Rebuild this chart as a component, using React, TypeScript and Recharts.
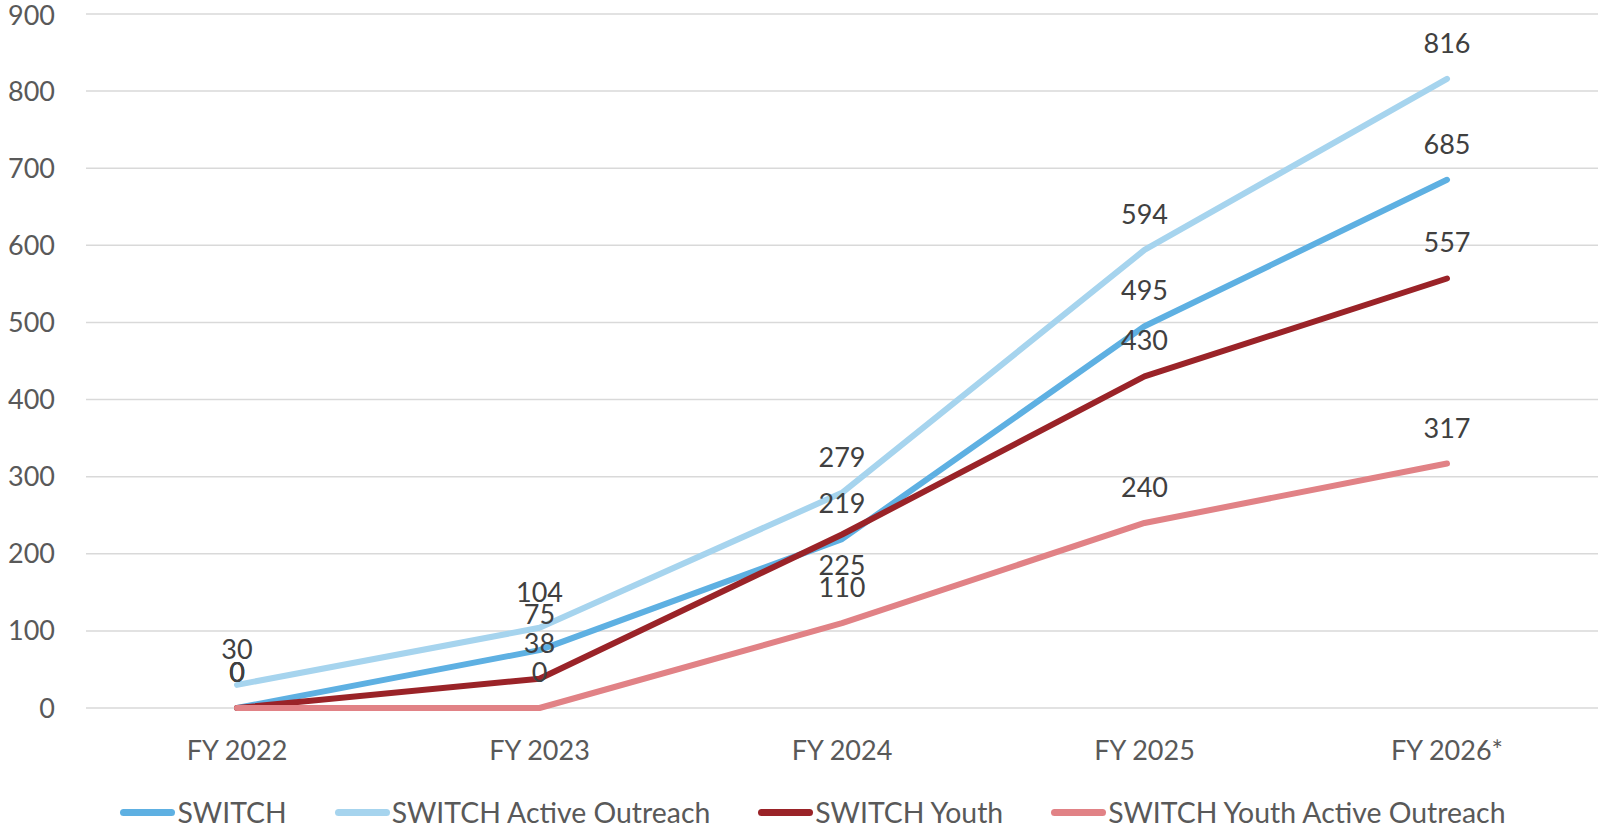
import React from "react";
import { LineChart, Line, XAxis, YAxis, CartesianGrid, Legend } from "recharts";

const years = ["FY 2022", "FY 2023", "FY 2024", "FY 2025", "FY 2026*"];
const switchVals = [0, 75, 219, 495, 685];
const outreachVals = [30, 104, 279, 594, 816];
const youthVals = [0, 38, 225, 430, 557];
const youthOutreachVals = [0, 0, 110, 240, 317];
const yTicks = [0, 100, 200, 300, 400, 500, 600, 700, 800, 900];

const FONT = "Lato, 'Open Sans', sans-serif";

const series = [
  { key: "switch", name: "SWITCH", color: "#5EB0E2" },
  { key: "outreach", name: "SWITCH Active Outreach", color: "#A6D4EE" },
  { key: "youth", name: "SWITCH Youth", color: "#9A2328" },
  { key: "youthOutreach", name: "SWITCH Youth Active Outreach", color: "#E18286" },
];

const data = years.map((year, i) => ({
  year,
  switch: switchVals[i],
  outreach: outreachVals[i],
  youth: youthVals[i],
  youthOutreach: youthOutreachVals[i],
}));

// most labels sit above the point, the youth one at FY 2024 goes under
const makeLabel = (seriesKey: string) => (props: any) => {
  const { x, y, value, index } = props;
  const below = seriesKey === "youth" && index === 2;
  return (
    <text
      key={`${seriesKey}-${index}`}
      x={x}
      y={below ? y + 40 : y - 26}
      textAnchor="middle"
      fill="#404040"
      fontSize={27}
      fontFamily={FONT}
    >
      {value}
    </text>
  );
};

const renderLegend = () => (
  <div
    style={{
      display: "flex",
      justifyContent: "center",
      gap: 48,
      paddingLeft: 28,
      paddingTop: 27,
      fontFamily: FONT,
      fontSize: 28.4,
      color: "#595959",
      whiteSpace: "nowrap",
    }}
  >
    {series.map((s) => (
      <div key={s.key} style={{ display: "flex", alignItems: "center" }}>
        <span
          style={{
            display: "inline-block",
            width: 55,
            height: 7,
            borderRadius: 4,
            background: s.color,
            marginRight: 2,
          }}
        />
        <span>{s.name}</span>
      </div>
    ))}
  </div>
);

export default function App() {
  return (
    <div style={{ position: "absolute", left: 0, top: 0, background: "#fff" }}>
      <LineChart
        width={1598}
        height={828}
        data={data}
        margin={{ top: 14, right: 0, bottom: 0, left: 0 }}
      >
        <CartesianGrid vertical={false} stroke="#D9D9D9" strokeWidth={1.5} />
        <XAxis
          dataKey="year"
          axisLine={false}
          tickLine={false}
          height={60}
          tickMargin={27}
          padding={{ left: 151, right: 151 }}
          tick={{ fill: "#595959", fontSize: 27, fontFamily: FONT }}
        />
        <YAxis
          domain={[0, 900]}
          ticks={yTicks}
          width={86}
          axisLine={false}
          tickLine={false}
          tickMargin={25}
          tick={{ fill: "#595959", fontSize: 27, fontFamily: FONT }}
        />
        <Legend verticalAlign="bottom" height={60} content={renderLegend} />
        {series.map((s) => (
          <Line
            key={s.key}
            type="linear"
            dataKey={s.key}
            name={s.name}
            stroke={s.color}
            strokeWidth={6}
            strokeLinecap="round"
            strokeLinejoin="round"
            dot={false}
            activeDot={false}
            isAnimationActive={false}
            label={makeLabel(s.key)}
          />
        ))}
      </LineChart>
    </div>
  );
}
